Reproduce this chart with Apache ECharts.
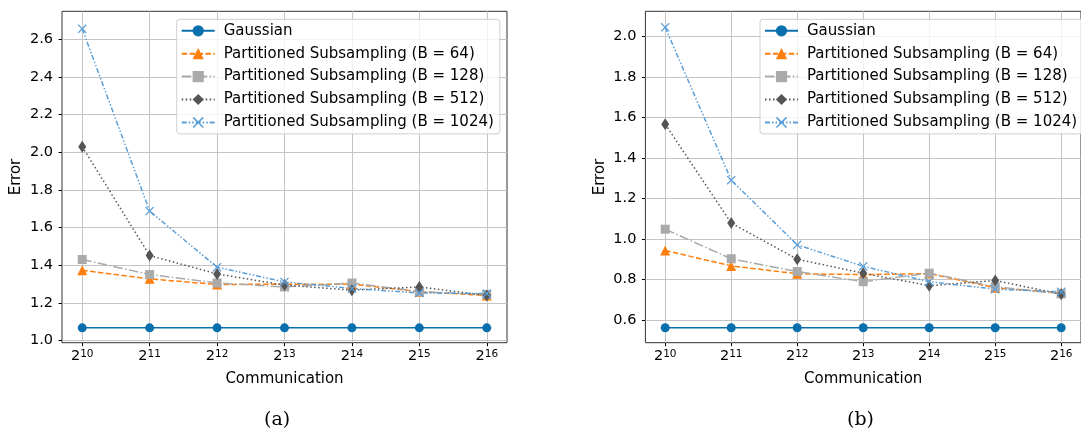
<!DOCTYPE html>
<html><head><meta charset="utf-8">
<script src="https://cdn.jsdelivr.net/npm/echarts@6/dist/echarts.min.js"></script>
<style>html,body{margin:0;padding:0;background:#fff}#c{width:1081px;height:431px}</style>
</head><body><div id="c"></div>
<script>
const exponents = [10, 11, 12, 13, 14, 15, 16];
const seriesNames = ['Gaussian','Partitioned Subsampling (B = 64)','Partitioned Subsampling (B = 128)','Partitioned Subsampling (B = 512)','Partitioned Subsampling (B = 1024)'];
// panel (a)
const aGaussian = [1.068, 1.068, 1.068, 1.068, 1.068, 1.068, 1.068];
const aB64   = [1.374, 1.328, 1.298, 1.300, 1.300, 1.260, 1.240];
const aB128  = [1.431, 1.351, 1.306, 1.285, 1.306, 1.260, 1.245];
const aB512  = [2.030, 1.452, 1.354, 1.295, 1.268, 1.285, 1.240];
const aB1024 = [2.656, 1.688, 1.390, 1.312, 1.277, 1.253, 1.250];
const aTicks = [1.0, 1.2, 1.4, 1.6, 1.8, 2.0, 2.2, 2.4, 2.6];
// panel (b)
const bGaussian = [0.563, 0.563, 0.563, 0.563, 0.563, 0.563, 0.563];
const bB64   = [0.944, 0.868, 0.829, 0.825, 0.830, 0.760, 0.735];
const bB128  = [1.049, 0.903, 0.840, 0.790, 0.832, 0.765, 0.730];
const bB512  = [1.567, 1.079, 0.901, 0.832, 0.770, 0.796, 0.728];
const bB1024 = [2.045, 1.291, 0.972, 0.866, 0.790, 0.753, 0.740];
const bTicks = [0.6, 0.8, 1.0, 1.2, 1.4, 1.6, 1.8, 2.0];

const FONT = 'DejaVu Sans';
const colors = ['#0a6fad', '#ff7f0e', '#aaaaaa', '#555555', '#5b9fd9'];
const dashes = ['solid', [5.5, 2.4], [9.6, 2.4, 1.5, 2.4], [1.5, 2.5], [5, 2, 1.5, 2, 1.5, 2]];
const symbols = ['circle', 'triangle', 'rect', 'diamond',
  'path://M0,1 L1,0 L5,4 L9,0 L10,1 L6,5 L10,9 L9,10 L5,6 L1,10 L0,9 L4,5 Z'];
const symSizes = [9, 10, 9, [8, 12], 9];

function pairs(vals) { return exponents.map((e, i) => [e, vals[i]]); }

function makeSeries(gi, arrs) {
  return arrs.map((vals, k) => ({
    name: seriesNames[k], type: 'line', xAxisIndex: gi, yAxisIndex: gi,
    data: pairs(vals), z: 3,
    symbol: symbols[k], symbolSize: symSizes[k], showSymbol: true,
    lineStyle: { color: colors[k], width: 1.5, type: dashes[k] },
    itemStyle: { color: colors[k], opacity: 1 },
    emphasis: { disabled: true }
  }));
}
function gridLines(gi, ticks) {
  return {
    type: 'line', xAxisIndex: gi, yAxisIndex: gi, data: [], z: 1, silent: true,
    markLine: {
      z: 1, silent: true, symbol: 'none', animation: false, label: { show: false },
      lineStyle: { color: '#c4c4c4', width: 1, type: 'solid' },
      emphasis: { disabled: true },
      data: exponents.map(e => ({ xAxis: e })).concat(ticks.map(t => ({ yAxis: t })))
    }
  };
}
function xAxis(gi) {
  return {
    type: 'value', gridIndex: gi, min: 9.7, max: 16.3,
    name: 'Communication', nameLocation: 'middle', nameGap: 27,
    nameTextStyle: { fontFamily: FONT, fontSize: 15, color: '#000' },
    axisLine: { show: false },
    splitLine: { show: false },
    axisTick: { show: true, customValues: exponents, length: 3.5, lineStyle: { color: '#000' } },
    axisLabel: {
      customValues: exponents, margin: 6, color: '#000',
      formatter: v => '{b|2}{s|' + v + '}',
      rich: {
        b: { fontFamily: FONT, fontSize: 14.5, color: '#000', verticalAlign: 'bottom', lineHeight: 15 },
        s: { fontFamily: FONT, fontSize: 10.5, color: '#000', verticalAlign: 'top', lineHeight: 11, padding: [0, 0, 7, 0] }
      }
    }
  };
}
function yAxis(gi, min, max, ticks) {
  return {
    type: 'value', gridIndex: gi, min: min, max: max,
    name: 'Error', nameLocation: 'middle', nameGap: 38,
    nameTextStyle: { fontFamily: FONT, fontSize: 15, color: '#000' },
    axisLine: { show: false },
    splitLine: { show: false },
    axisTick: { show: true, customValues: ticks, length: 3.5, lineStyle: { color: '#000' } },
    axisLabel: { customValues: ticks, margin: 9, fontFamily: FONT, fontSize: 14.5, color: '#000',
      formatter: v => v.toFixed(1) }
  };
}
function legend(left) {
  return {
    orient: 'vertical', left: left, top: 19.3, data: seriesNames,
    itemWidth: 33, itemHeight: 14, itemGap: 7.9,
    padding: [4, 6, 4, 4],
    backgroundColor: 'rgba(255,255,255,0.8)', borderColor: '#d0d0d0', borderWidth: 1, borderRadius: 3,
    textStyle: { fontFamily: FONT, fontSize: 15, lineHeight: 14, color: '#000', padding: [0, 0, 0, 4] },
    selectedMode: false
  };
}

const chart = echarts.init(document.getElementById('c'), null, { renderer: 'canvas' });
chart.setOption({
  animation: false,
  backgroundColor: '#fff',
  grid: [
    { left: 62, top: 11.3, width: 445, height: 331.4, show: true, borderColor: '#333', borderWidth: 1, backgroundColor: 'transparent' },
    { left: 645.4, top: 11.3, width: 445, height: 331.4, show: true, borderColor: '#333', borderWidth: 1, backgroundColor: 'transparent' }
  ],
  xAxis: [xAxis(0), xAxis(1)],
  yAxis: [yAxis(0, 0.989, 2.749, aTicks), yAxis(1, 0.489, 2.124, bTicks)],
  legend: [legend(176.7), legend(760)],
  series: [gridLines(0, aTicks), gridLines(1, bTicks)]
    .concat(makeSeries(0, [aGaussian, aB64, aB128, aB512, aB1024]))
    .concat(makeSeries(1, [bGaussian, bB64, bB128, bB512, bB1024])),
  graphic: [
    { type: 'text', left: 264, top: 411, style: { text: '(a)', font: '19px "DejaVu Serif"', fill: '#000' } },
    { type: 'text', left: 847, top: 411, style: { text: '(b)', font: '19px "DejaVu Serif"', fill: '#000' } }
  ]
});
</script>
</body></html>
